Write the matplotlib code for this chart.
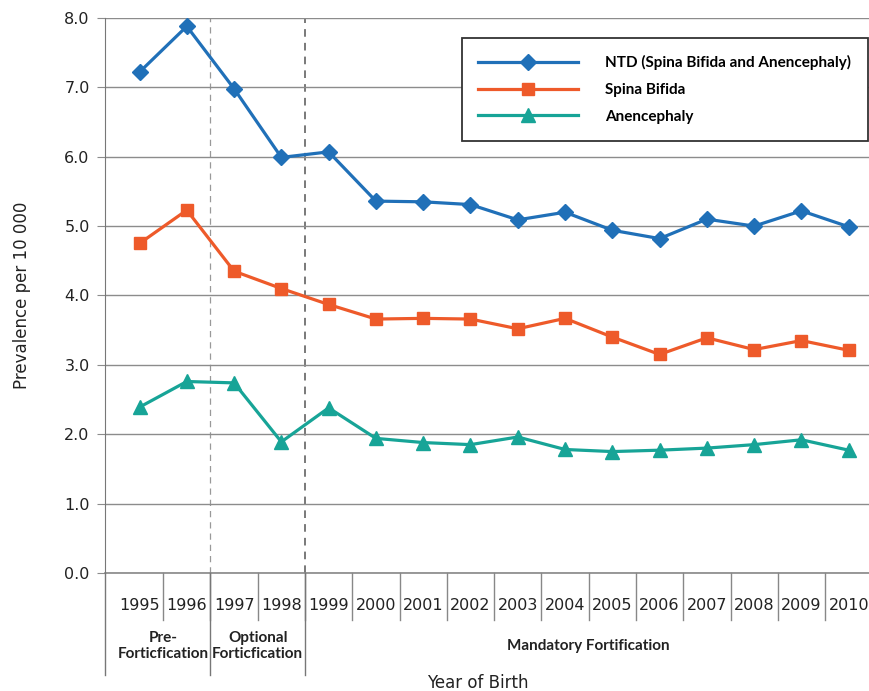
import matplotlib
matplotlib.use("Agg")
import matplotlib.pyplot as plt
import matplotlib.transforms as mtransforms

years = ["1995", "1996", "1997", "1998", "1999", "2000", "2001", "2002",
         "2003", "2004", "2005", "2006", "2007", "2008", "2009", "2010"]
ntd = [7.22, 7.88, 6.98, 5.99, 6.07, 5.36, 5.35, 5.31, 5.09, 5.20, 4.94, 4.82, 5.10, 5.00, 5.22, 4.99]
spina_bifida = [4.75, 5.23, 4.35, 4.10, 3.87, 3.66, 3.67, 3.66, 3.52, 3.67, 3.40, 3.15, 3.39, 3.22, 3.35, 3.21]
anencephaly = [2.39, 2.76, 2.74, 1.89, 2.38, 1.94, 1.88, 1.85, 1.96, 1.78, 1.75, 1.77, 1.80, 1.85, 1.92, 1.77]
periods = ["Pre-\nForticfication", "Optional\nForticfication", "Mandatory Fortification"]
period_spans = [(0, 1), (2, 3), (4, 15)]

blue = "#2070b8"
orange = "#ee5a2a"
teal = "#17a497"
grid_col = "#8c8c8c"
narrow = ["Lato", "DejaVu Sans"]

fig = plt.figure(figsize=(8.7, 6.91), dpi=100)
ax = fig.add_axes([0.1207, 0.1708, 0.8793, 0.8032])

x = list(range(len(years)))
ax.plot(x, ntd, color=blue, lw=2.3, marker="D", ms=8, label="NTD (Spina Bifida and Anencephaly)", zorder=5)
ax.plot(x, spina_bifida, color=orange, lw=2.3, marker="s", ms=8.5, label="Spina Bifida", zorder=5)
ax.plot(x, anencephaly, color=teal, lw=2.3, marker="^", ms=10, label="Anencephaly", zorder=5)

ax.set_xlim(-0.73, 15.45)
ax.set_ylim(0, 8)
ax.set_yticks(range(0, 9))
ax.set_yticklabels([f"{v:.1f}" for v in range(0, 9)], fontsize=11.5, color="#222222")
ax.yaxis.grid(True, color=grid_col, lw=1)
ax.tick_params(axis="y", length=6, color=grid_col, pad=5)
ax.set_xticks([])
for s in ["top", "right", "bottom"]:
    ax.spines[s].set_visible(False)
ax.spines["left"].set_color("#777777")
ax.spines["left"].set_bounds(0, 8)

# period dividers inside the plot
ax.axvline(1.5, color="#999999", lw=0.9, ls=(0, (5, 4)), zorder=1)
ax.axvline(3.5, color="#555555", lw=1.1, ls=(0, (5, 4)), zorder=1)

# table under the axis
trans = mtransforms.blended_transform_factory(ax.transData, ax.transAxes)
ax.plot([-0.73, 15.45], [0, 0], transform=trans, color="#888888", lw=1.2, clip_on=False)
for i in range(len(years) - 1):
    ax.plot([i + 0.5, i + 0.5], [0, -0.085], transform=trans, color="#888888", lw=1, clip_on=False)
for xv in [-0.73, 1.5, 3.5]:
    ax.plot([xv, xv], [0, -0.184], transform=trans, color="#777777", lw=1, clip_on=False)
for i, yr in enumerate(years):
    ax.text(i, -0.058, yr, transform=trans, ha="center", va="center", fontsize=11.5, color="#222222")
for lab, (a, b) in zip(periods, period_spans):
    ax.text((a + b) / 2, -0.131, lab, transform=trans, ha="center", va="center",
            fontsize=11, fontweight="bold", family=narrow, color="#222222", linespacing=1.2)

fig.text(478 / 870, 0.0116, "Year of Birth", ha="center", va="center", fontsize=12, color="#222222")
fig.text(22 / 870, 1 - 295 / 691, "Prevalence per 10 000", rotation=90, ha="center", va="center",
         fontsize=12, color="#222222")

leg = ax.legend(loc="upper right", bbox_to_anchor=(868 / 870, 1 - 38 / 691), bbox_transform=fig.transFigure,
                prop={"family": narrow, "weight": "bold", "size": 11}, handlelength=6.5,
                handletextpad=1.8, borderpad=1.1, labelspacing=0.85, fancybox=False, framealpha=1,
                borderaxespad=0)
leg.get_frame().set_edgecolor("#333333")
leg.get_frame().set_linewidth(1.3)

fig.savefig("out.png", dpi=100)
